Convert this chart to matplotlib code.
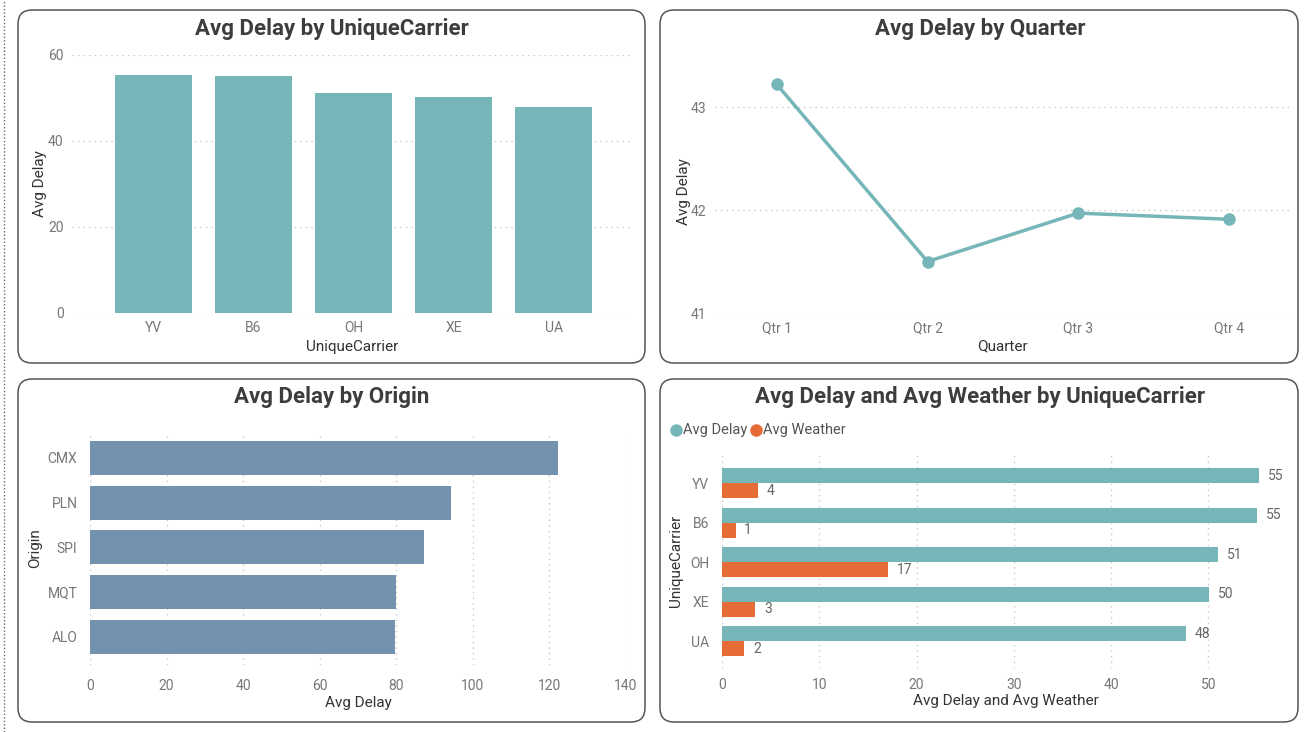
import matplotlib
matplotlib.use("Agg")
import matplotlib.pyplot as plt
from matplotlib.patches import FancyBboxPatch
from matplotlib.lines import Line2D
import numpy as np

# data
carriers = ["YV", "B6", "OH", "XE", "UA"]
carrier_delay = [55.3, 55.1, 51.1, 50.2, 47.9]

quarters = ["Qtr 1", "Qtr 2", "Qtr 3", "Qtr 4"]
quarter_delay = [43.22, 41.50, 41.97, 41.91]

origins = ["CMX", "PLN", "SPI", "MQT", "ALO"]
origin_delay = [122.3, 94.4, 87.2, 80.0, 79.7]

weather_delay = [55.2, 55.0, 51.0, 50.1, 47.7]
weather_avg = [3.7, 1.4, 17.1, 3.4, 2.3]

TEAL = "#76B6B8"
SLATE = "#7292AD"
ORANGE = "#E66C37"
TITLE_C = "#3d3d3d"
TICK_C = "#777777"
LABEL_C = "#333333"
GRID_C = "#c8c8c8"

plt.rcParams["font.family"] = ["Liberation Sans Narrow", "Roboto", "DejaVu Sans"]

W, H = 1307, 732
fig = plt.figure(figsize=(W / 100, H / 100), dpi=100)
fig.patch.set_facecolor("white")


def ax_at(x0, y0, x1, y1):
    # pixel box (top-left origin) -> axes
    return fig.add_axes([x0 / W, 1 - y1 / H, (x1 - x0) / W, (y1 - y0) / H])


def panel(x0, y0, x1, y1, title, tx, ty):
    box = FancyBboxPatch((x0 / 100, (H - y1) / 100), (x1 - x0) / 100, (y1 - y0) / 100,
                         boxstyle="round,pad=0,rounding_size=0.14",
                         transform=fig.dpi_scale_trans, facecolor="none",
                         edgecolor="#555555", linewidth=1.1, zorder=-5)
    fig.patches.append(box)
    fig.text(tx / W, 1 - ty / H, title, ha="center", va="center",
             fontsize=16, fontweight="bold", color=TITLE_C)


def style(ax, grid_axis):
    for s in ax.spines.values():
        s.set_visible(False)
    ax.set_facecolor("none")
    ax.tick_params(length=0, labelsize=10, colors=TICK_C, pad=6)
    ax.grid(axis=grid_axis, color=GRID_C, linestyle=(0, (1, 3)), linewidth=1)
    ax.set_axisbelow(True)


# page border dotted line
fig.add_artist(Line2D([3.5 / W, 3.5 / W], [0, 1], color="#666666",
                      linestyle=(0, (1, 1.5)), linewidth=1))

panel(18, 10, 645, 363, "Avg Delay by UniqueCarrier", 332, 29)
panel(660, 10, 1298, 363, "Avg Delay by Quarter", 980, 29)
panel(18, 379, 645, 722, "Avg Delay by Origin", 332, 397)
panel(660, 379, 1298, 722, "Avg Delay and Avg Weather by UniqueCarrier", 980, 397)

# top-left: column chart
ax1 = ax_at(72, 55, 633, 313)
x = np.arange(len(carriers))
ax1.bar(x, carrier_delay, width=0.77, color=TEAL)
ax1.set_xlim(-0.815, 4.795)
ax1.set_ylim(0, 60)
ax1.set_yticks([0, 20, 40, 60])
ax1.set_xticks(x)
ax1.set_xticklabels(carriers)
style(ax1, "y")
ax1.set_xlabel("UniqueCarrier", fontsize=11, color=LABEL_C, labelpad=3)
ax1.set_ylabel("Avg Delay", fontsize=11, color=LABEL_C, labelpad=1)

# top-right: line chart
ax2 = ax_at(715, 71, 1290, 313)
q = np.arange(len(quarters))
ax2.plot(q, quarter_delay, color=TEAL, linewidth=2.5, marker="o", markersize=8)
ax2.set_xlim(-0.41, 3.405)
ax2.set_ylim(41, 43.35)
ax2.set_yticks([41, 42, 43])
ax2.set_xticks(q)
ax2.set_xticklabels(quarters)
style(ax2, "y")
ax2.set_xlabel("Quarter", fontsize=11, color=LABEL_C, labelpad=3)
ax2.set_ylabel("Avg Delay", fontsize=11, color=LABEL_C, labelpad=0)

# bottom-left: horizontal bars
ax3 = ax_at(90, 432, 626, 665)
y = np.arange(len(origins))
ax3.barh(y, origin_delay, height=0.76, color=SLATE)
ax3.set_ylim(4.63, -0.58)
ax3.set_xlim(0, 140)
ax3.set_xticks(range(0, 141, 20))
ax3.set_yticks(y)
ax3.set_yticklabels(origins)
style(ax3, "x")
ax3.tick_params(axis="x", pad=10)
ax3.tick_params(axis="y", pad=9)
ax3.set_xlabel("Avg Delay", fontsize=11, color=LABEL_C, labelpad=2)
ax3.set_ylabel("Origin", fontsize=11, color=LABEL_C, labelpad=4)

# bottom-right: clustered bars
ax4 = ax_at(722, 453, 1290, 668)
y4 = np.arange(len(carriers))
h = 0.38
b1 = ax4.barh(y4 - h / 2, weather_delay, height=h, color=TEAL)
b2 = ax4.barh(y4 + h / 2, weather_avg, height=h, color=ORANGE)
for bars in (b1, b2):
    for r in bars:
        v = r.get_width()
        ax4.text(v + 0.9, r.get_y() + r.get_height() / 2, f"{v:.0f}",
                 va="center", ha="left", fontsize=10, color="#666666")
ax4.set_ylim(4.68, -0.76)
ax4.set_xlim(0, 58.4)
ax4.set_xticks(range(0, 51, 10))
ax4.set_yticks(y4)
ax4.set_yticklabels(carriers)
style(ax4, "x")
ax4.tick_params(axis="x", pad=7)
ax4.tick_params(axis="y", pad=9)
ax4.set_xlabel("Avg Delay and Avg Weather", fontsize=11, color=LABEL_C, labelpad=2)
ax4.set_ylabel("UniqueCarrier", fontsize=11, color=LABEL_C, labelpad=5)

# legend
fig.add_artist(Line2D([676 / W], [1 - 430 / H], marker="o", color=TEAL, markersize=8, linestyle=""))
fig.text(683 / W, 1 - 430 / H, "Avg Delay", va="center", fontsize=10.5, color="#555555")
fig.add_artist(Line2D([756 / W], [1 - 430 / H], marker="o", color=ORANGE, markersize=8, linestyle=""))
fig.text(763 / W, 1 - 430 / H, "Avg Weather", va="center", fontsize=10.5, color="#555555")

fig.savefig("out.png", dpi=100, facecolor="white")
